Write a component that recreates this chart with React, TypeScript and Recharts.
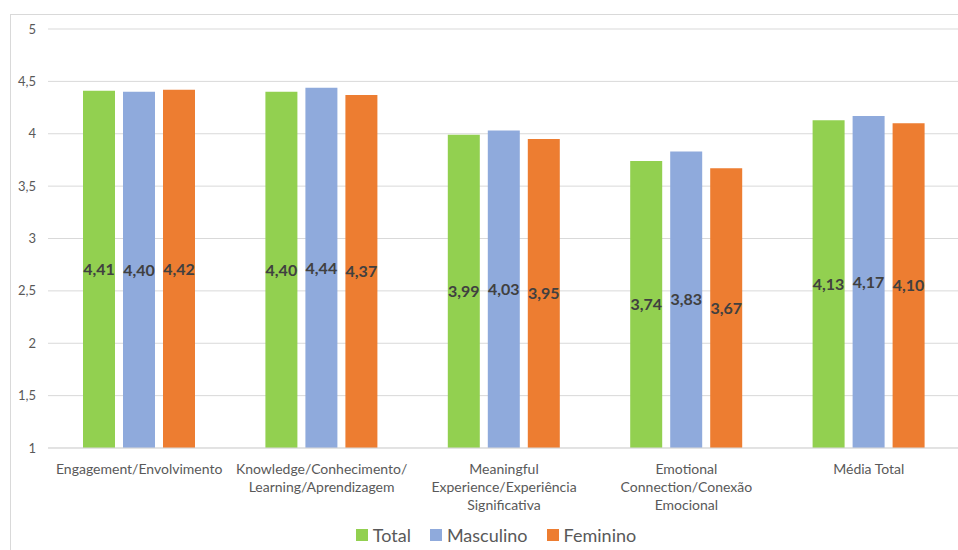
import React from 'react';
import {
  BarChart,
  Bar,
  XAxis,
  YAxis,
  CartesianGrid,
  LabelList,
} from 'recharts';

const categories = [
  'Engagement/Envolvimento',
  'Knowledge/Conhecimento/\nLearning/Aprendizagem',
  'Meaningful\nExperience/Experiência\nSignificativa',
  'Emotional\nConnection/Conexão\nEmocional',
  'Média Total',
];

const totalValues = [4.41, 4.4, 3.99, 3.74, 4.13];
const masculinoValues = [4.4, 4.44, 4.03, 3.83, 4.17];
const femininoValues = [4.42, 4.37, 3.95, 3.67, 4.1];

const yTicks = [1, 1.5, 2, 2.5, 3, 3.5, 4, 4.5, 5];

const series = [
  { key: 'total', name: 'Total', color: '#92d050' },
  { key: 'masculino', name: 'Masculino', color: '#8faadc' },
  { key: 'feminino', name: 'Feminino', color: '#ed7d31' },
];

const data = categories.map((name, i) => ({
  name,
  total: totalValues[i],
  masculino: masculinoValues[i],
  feminino: femininoValues[i],
}));

const FONT = 'Lato, "Open Sans", sans-serif';
const comma = (v: number, digits: number) => v.toFixed(digits).replace('.', ',');

// multi-line category labels, split on '\n'
const CategoryTick = ({ x, y, payload }: any) => {
  const lines = String(payload.value).split('\n');
  return (
    <text x={x} y={y} textAnchor="middle" fill="#595959" fontSize={14} fontFamily={FONT}>
      {lines.map((line, i) => (
        <tspan key={i} x={x} dy={i === 0 ? 18 : 18}>
          {line}
        </tspan>
      ))}
    </text>
  );
};

const labelStyle = {
  fill: '#404040',
  fontSize: 16,
  fontWeight: 700,
  fontFamily: FONT,
};

export default function App() {
  return (
    <div style={{ position: 'absolute', left: 0, top: 0, width: 958, height: 550, background: '#fff' }}>
      <div
        style={{
          position: 'absolute',
          left: 10,
          top: 14,
          width: 948,
          height: 536,
          borderLeft: '1px solid #d9d9d9',
          borderTop: '1px solid #d9d9d9',
        }}
      />
      <BarChart
        width={958}
        height={550}
        data={data}
        margin={{ top: 29, right: -2, left: 10, bottom: 0 }}
        barGap={8}
        barSize={32}
        style={{ position: 'absolute', left: 0, top: 0 }}
      >
        <CartesianGrid vertical={false} stroke="#d9d9d9" />
        <XAxis
          dataKey="name"
          tick={<CategoryTick />}
          tickLine={false}
          axisLine={{ stroke: '#d9d9d9' }}
          interval={0}
          height={102}
        />
        <YAxis
          domain={[1, 5]}
          ticks={yTicks}
          width={38}
          axisLine={false}
          tickLine={false}
          tickSize={0}
          tickMargin={12}
          tickFormatter={(v: number) => (Number.isInteger(v) ? String(v) : comma(v, 1))}
          tick={{ fill: '#595959', fontSize: 13, fontFamily: FONT }}
        />
        {series.map((s) => (
          <Bar key={s.key} dataKey={s.key} name={s.name} fill={s.color} isAnimationActive={false}>
            <LabelList
              dataKey={s.key}
              position="center"
              formatter={(v: number) => comma(v, 2)}
              style={labelStyle}
            />
          </Bar>
        ))}
      </BarChart>
      <div
        style={{
          position: 'absolute',
          left: 0,
          top: 524,
          width: 992,
          display: 'flex',
          justifyContent: 'center',
          gap: 19,
          fontFamily: FONT,
          fontSize: 18,
          color: '#595959',
        }}
      >
        {series.map((s) => (
          <div key={s.key} style={{ display: 'flex', alignItems: 'center' }}>
            <span style={{ width: 12, height: 12, background: s.color, marginRight: 5 }} />
            <span>{s.name}</span>
          </div>
        ))}
      </div>
    </div>
  );
}
